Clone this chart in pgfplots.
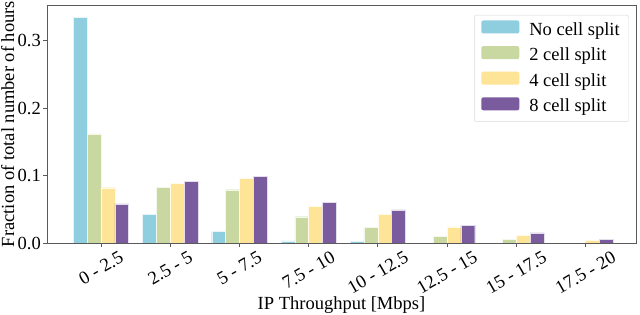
\documentclass[border=0pt]{standalone}
\usepackage{fontspec}
\setmainfont{Liberation Serif}
\usepackage{graphicx}
\usepackage{pgfplots}
\pgfplotsset{compat=1.18}
\definecolor{cA}{RGB}{142,206,222}
\definecolor{cB}{RGB}{200,216,160}
\definecolor{cC}{RGB}{253,228,150}
\definecolor{cD}{RGB}{122,92,158}
\definecolor{frame}{RGB}{90,90,90}
\newcommand{\fs}{\fontsize{18.5pt}{21pt}\selectfont}
\begin{document}
\fs
\begin{tikzpicture}
\begin{axis}[
  name=ax,
  scale only axis,
  width=589pt, height=238pt,
  ybar=0pt,
  bar width=0.2,
  xmin=-0.78, xmax=7.73,
  ymin=0, ymax=0.353,
  axis on top,
  xtick={0,...,7},
  xticklabels={\rotatebox{30}{0 - 2.5}, \rotatebox{30}{2.5 - 5}, \rotatebox{30}{5 - 7.5}, \rotatebox{30}{7.5 - 10}, \rotatebox{30}{10 - 12.5}, \rotatebox{30}{12.5 - 15}, \rotatebox{30}{15 - 17.5}, \rotatebox{30}{17.5 - 20}},
  x tick label style={anchor=north, inner sep=0pt, yshift=-3.5pt, font=\fs},
  ytick={0,0.1,0.2,0.3},
  yticklabel style={/pgf/number format/fixed, /pgf/number format/fixed zerofill, /pgf/number format/precision=1, font=\fs, inner sep=2pt},
  /pgf/number format/assume math mode=true,
  tick align=outside,
  tick style={frame, line width=0.8pt},
  major tick length=4pt,
  xtick pos=bottom, ytick pos=left,
  axis line style={frame, line width=0.8pt},
  xlabel={IP Throughput [Mbps]},
  ylabel={Fraction of total number of hours},
  xlabel style={yshift=4pt},
  ylabel style={yshift=-5pt},
  label style={font=\fs},
  legend style={at={(0.988,0.958)}, anchor=north east, draw=black!15, rounded corners=2pt,
    font=\fs, row sep=6pt, inner xsep=7pt, inner ysep=5pt},
  legend cell align=left,
  legend image code/.code={\fill[#1, draw=none] (0pt,-3.5pt) rectangle (38pt,9.5pt); \path[draw=none, fill=none] (0pt,0pt) -- (46pt,0pt);},
]
\addplot[fill=cA, draw=white!80!cA, line width=0.4pt] coordinates {(0,0.335) (1,0.042) (2,0.017) (3,0.003) (4,0.002)};
\addplot[fill=cB, draw=white!80!cB, line width=0.4pt] coordinates {(0,0.162) (1,0.083) (2,0.079) (3,0.039) (4,0.023) (5,0.010) (6,0.005)};
\addplot[fill=cC, draw=white!80!cC, line width=0.4pt] coordinates {(0,0.082) (1,0.088) (2,0.096) (3,0.054) (4,0.043) (5,0.024) (6,0.011) (7,0.004)};
\addplot[fill=cD, draw=white!80!cD, line width=0.4pt] coordinates {(0,0.058) (1,0.091) (2,0.099) (3,0.060) (4,0.049) (5,0.026) (6,0.015) (7,0.005)};
\legend{No cell split, 2 cell split, 4 cell split, 8 cell split}
\end{axis}
\pgfresetboundingbox
\path ([xshift=-47pt,yshift=-72pt]ax.south west) rectangle ([xshift=4pt,yshift=5pt]ax.north east);
\end{tikzpicture}
\end{document}
